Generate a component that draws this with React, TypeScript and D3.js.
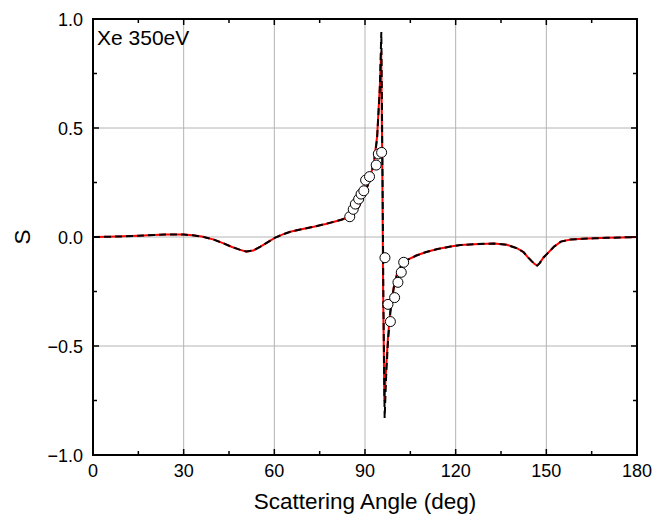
import React from "react";
import * as d3 from "d3";

// theory curve (red, solid)
const redAngles = [0, 5, 10, 15, 20, 24, 27, 30, 33, 36, 40, 43, 46, 48.5, 50.7, 53, 55.4, 58, 60.3, 63, 65.3, 69, 73, 77, 81.9, 84, 86, 88, 89.6, 91, 92.9, 94, 94.9, 95.35, 95.7, 96.0, 96.4, 97, 97.6, 98.4, 99.5, 100.6, 102, 104, 107, 110, 114, 118.3, 121.6, 126, 132.7, 137, 140.4, 142.5, 143.7, 145.3, 146.3, 147, 147.8, 149, 150.4, 152.5, 154.8, 158, 162, 165.8, 170, 175, 180];
const redS = [0, 0.001, 0.003, 0.006, 0.009, 0.011, 0.012, 0.011, 0.008, 0.002, -0.012, -0.028, -0.046, -0.058, -0.067, -0.062, -0.044, -0.022, -0.003, 0.013, 0.024, 0.036, 0.047, 0.06, 0.078, 0.088, 0.105, 0.14, 0.19, 0.24, 0.338, 0.46, 0.69, 0.85, 0.35, -0.25, -0.75, -0.6, -0.46, -0.335, -0.23, -0.167, -0.13, -0.105, -0.085, -0.07, -0.055, -0.044, -0.037, -0.033, -0.03, -0.036, -0.052, -0.07, -0.09, -0.113, -0.126, -0.131, -0.12, -0.095, -0.075, -0.045, -0.021, -0.012, -0.008, -0.006, -0.004, -0.002, 0];

// second theory curve (black, dashed)
const blackAngles = [0, 5, 10, 15, 20, 24, 27, 30, 33, 36, 40, 43, 46, 48.5, 50.7, 53, 55.4, 58, 60.3, 63, 65.3, 69, 73, 77, 81.9, 84, 86, 88, 89.6, 91, 92.9, 94, 94.9, 95.4, 95.8, 96.1, 96.5, 97, 97.6, 98.4, 99.5, 100.6, 102, 104, 107, 110, 114, 118.3, 121.6, 126, 132.7, 137, 140.4, 142.5, 143.7, 145.3, 146.3, 147, 147.8, 149, 150.4, 152.5, 154.8, 158, 162, 165.8, 170, 175, 180];
const blackS = [0, 0.001, 0.003, 0.006, 0.009, 0.011, 0.012, 0.011, 0.008, 0.002, -0.012, -0.028, -0.046, -0.058, -0.066, -0.062, -0.044, -0.022, -0.003, 0.013, 0.024, 0.036, 0.047, 0.06, 0.078, 0.088, 0.105, 0.14, 0.19, 0.24, 0.335, 0.45, 0.68, 0.94, 0.3, -0.3, -0.83, -0.64, -0.48, -0.345, -0.235, -0.17, -0.13, -0.105, -0.085, -0.07, -0.055, -0.044, -0.037, -0.033, -0.03, -0.036, -0.052, -0.07, -0.09, -0.113, -0.126, -0.131, -0.12, -0.095, -0.075, -0.045, -0.021, -0.012, -0.008, -0.006, -0.004, -0.002, 0];

// measured points
const expAngles = [84.96, 86.1, 86.8, 87.9, 88.7, 89.6, 90.2, 91.5, 93.7, 94.4, 95.5, 96.6, 97.6, 98.4, 99.8, 100.9, 102.0, 102.8];
const expS = [0.093, 0.127, 0.151, 0.174, 0.197, 0.212, 0.261, 0.277, 0.33, 0.381, 0.388, -0.095, -0.309, -0.388, -0.278, -0.208, -0.162, -0.116];

const xTicks = [0, 30, 60, 90, 120, 150, 180];
const xMinor = [15, 45, 75, 105, 135, 165];
const yTicks = [-1, -0.5, 0, 0.5, 1];
const yMinor = [-0.75, -0.25, 0.25, 0.75];

const W = 654;
const H = 521;
const margin = { top: 19, right: 17, bottom: 66, left: 93 };
const font = "'Liberation Sans', Arial, sans-serif";

export default function App() {
  const x = d3.scaleLinear().domain([0, 180]).range([margin.left, W - margin.right]);
  const y = d3.scaleLinear().domain([-1, 1]).range([H - margin.bottom, margin.top]);
  const x0 = margin.left, x1 = W - margin.right;
  const y0 = H - margin.bottom, y1 = margin.top;

  const redPath = d3.line<number>().x((d) => x(d)).y((_, i) => y(redS[i]))(redAngles) || "";
  const blackPath = d3.line<number>().x((d) => x(d)).y((_, i) => y(blackS[i]))(blackAngles) || "";

  return (
    <svg width={W} height={H} style={{ position: "absolute", left: 0, top: 0, background: "#fff" }} fontFamily={font}>
      {/* grid */}
      {xTicks.slice(1, -1).map((t) => (
        <line key={"gx" + t} x1={x(t)} x2={x(t)} y1={y0} y2={y1} stroke="#b4b4b4" strokeWidth={1} />
      ))}
      {yTicks.slice(1, -1).map((t) => (
        <line key={"gy" + t} x1={x0} x2={x1} y1={y(t)} y2={y(t)} stroke="#b4b4b4" strokeWidth={1} />
      ))}

      {/* curves */}
      <path d={redPath} fill="none" stroke="#ff0000" strokeWidth={2} />
      <path d={blackPath} fill="none" stroke="#000" strokeWidth={2} strokeDasharray="7,4" />

      {/* points */}
      {expAngles.map((a, i) => (
        <circle key={"p" + i} cx={x(a)} cy={y(expS[i])} r={5} fill="#fff" stroke="#000" strokeWidth={1} />
      ))}

      {/* ticks */}
      {xTicks.map((t) => (
        <g key={"tx" + t}>
          <line x1={x(t)} x2={x(t)} y1={y0} y2={y0 - 6} stroke="#000" strokeWidth={1.5} />
          <line x1={x(t)} x2={x(t)} y1={y1} y2={y1 + 6} stroke="#000" strokeWidth={1.5} />
          <text x={x(t)} y={y0 + 22} textAnchor="middle" fontSize={18}>{t}</text>
        </g>
      ))}
      {xMinor.map((t) => (
        <g key={"mx" + t}>
          <line x1={x(t)} x2={x(t)} y1={y0} y2={y0 - 4} stroke="#000" strokeWidth={1.5} />
          <line x1={x(t)} x2={x(t)} y1={y1} y2={y1 + 4} stroke="#000" strokeWidth={1.5} />
        </g>
      ))}
      {yTicks.map((t) => (
        <g key={"ty" + t}>
          <line x1={x0} x2={x0 + 6} y1={y(t)} y2={y(t)} stroke="#000" strokeWidth={1.5} />
          <line x1={x1} x2={x1 - 6} y1={y(t)} y2={y(t)} stroke="#000" strokeWidth={1.5} />
          <text x={x0 - 10} y={y(t) + 6.5} textAnchor="end" fontSize={18}>{d3.format(".1f")(t)}</text>
        </g>
      ))}
      {yMinor.map((t) => (
        <g key={"my" + t}>
          <line x1={x0} x2={x0 + 4} y1={y(t)} y2={y(t)} stroke="#000" strokeWidth={1.5} />
          <line x1={x1} x2={x1 - 4} y1={y(t)} y2={y(t)} stroke="#000" strokeWidth={1.5} />
        </g>
      ))}

      {/* frame */}
      <rect x={x0} y={y1} width={x1 - x0} height={y0 - y1} fill="none" stroke="#000" strokeWidth={2} />

      <text x={x0 + 4} y={y1 + 26} fontSize={21}>Xe 350eV</text>
      <text x={(x0 + x1) / 2} y={H - 12} textAnchor="middle" fontSize={22.5}>Scattering Angle (deg)</text>
      <text transform={`translate(30, ${(y0 + y1) / 2}) rotate(-90)`} textAnchor="middle" fontSize={22.5}>S</text>
    </svg>
  );
}
